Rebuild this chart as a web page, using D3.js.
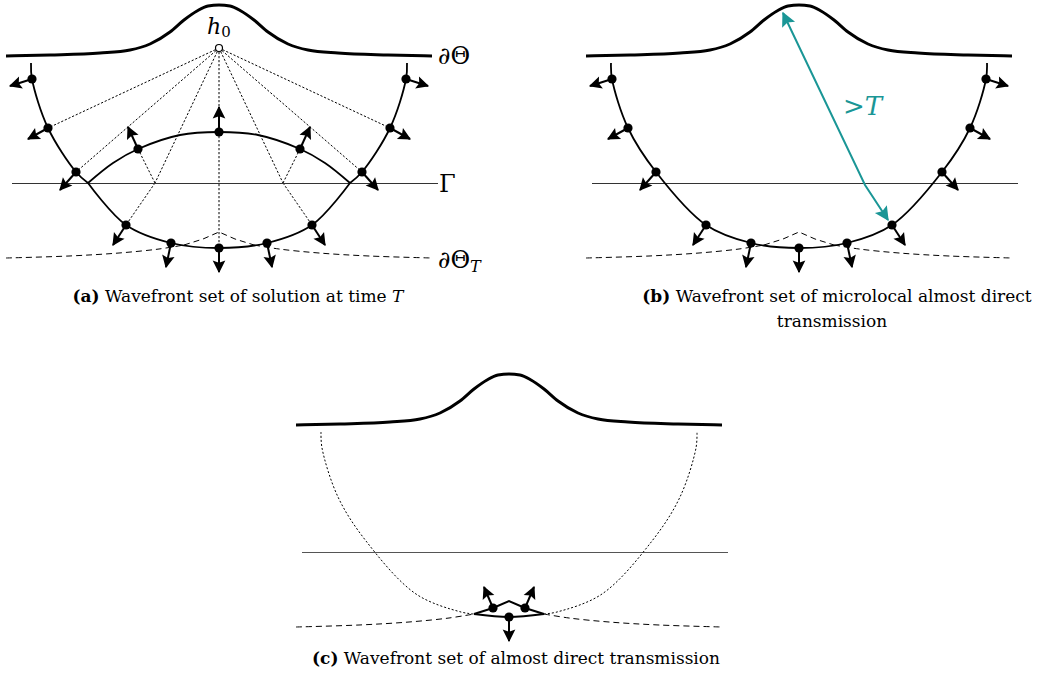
<!DOCTYPE html>
<html>
<head>
<meta charset="utf-8">
<script src="https://cdn.jsdelivr.net/npm/d3@7"></script>
<style>
  body { margin: 0; background: #fff; }
</style>
</head>
<body>
<div id="graph"></div>
<script>
// local coordinates: x from centre of bump, y down from flat part of the boundary
const bump = [[-213,0],[-169,-1],[-119,-3],[-89,-6],[-69,-12],[-49,-24],[-35,-36],[-22,-45],[-11,-50],[0,-51],
              [11,-50],[22,-45],[35,-36],[49,-24],[69,-12],[89,-6],[119,-3],[169,-1],[213,0]];
const gammaLine = [[-207,127.5],[219,127.5]];
const thetaTLeft = [[-213,202],[-150,200],[-100,197],[-60,193],[-35,189]];
const thetaTRight = [[35,189],[60,193],[100,197],[150,200],[213,202]];
const thetaTTent = [[-35,189],[-16,183],[0,176],[16,183],[35,189]];

const waveLeft = [[-188,7],[-187,23],[-171,72],[-143,116],[-131,127]];
const waveRight = [[131,127],[143,116],[171,72],[187,23],[188,7]];
const waveLower = [[-131,127],[-93,169],[-48,187],[0,192],[48,187],[93,169],[131,127]];
const waveUpper = [[-131,127],[-106,107],[-81,93],[-39,79],[0,76],[39,79],[81,93],[106,107],[131,127]];
const waveFull = [[-188,7],[-187,23],[-171,72],[-143,116],[-93,169],[-48,187],[0,192],
                  [48,187],[93,169],[143,116],[171,72],[187,23],[188,7]];
const cDottedLeft = [[-188,7],[-187,23],[-171,72],[-143,116],[-93,169],[-48,187],[-35,189]];
const cDottedRight = [[35,189],[48,187],[93,169],[143,116],[171,72],[187,23],[188,7]];
const cLensLower = [[-35,189],[0,192],[35,189]];

// points of the wavefront set and their covectors
const outerDots = [[-187,23],[-171,72],[-143,116],[-93,169],[-48,187],[0,192],[48,187],[93,169],[143,116],[171,72],[187,23]];
const outerVecs = [[-22,7],[-20,11],[-16,18],[-13,20],[-5,24],[0,24],[5,24],[13,20],[16,18],[20,11],[22,7]];
const upperDots = [[-81,93],[0,76],[81,93]];
const upperVecs = [[-10,-22],[0,-25],[10,-22]];
const cDots = [[-16,183],[0,192],[16,183]];
const cVecs = [[-9,-21],[0,24],[9,-21]];

const h0 = [0,-8];
const rayEnds = [[-171,72],[-143,116],[0,192],[143,116],[171,72]];
const rayHits = [[-64,127],[64,127]];
const rayReflected = [[-81,93],[81,93]];
const rayTransmitted = [[-93,169],[93,169]];

const tealPath = [[-16,-43],[66,129],[89,164]];

const panels = [{id:"a", cx:219, by:56}, {id:"b", cx:799, by:56}, {id:"c", cx:509, by:425}];

const mathFont = "'DejaVu Serif', serif";
const textFont = "'DejaVu Serif', serif";
const teal = "#1a9696";

const svg = d3.select("#graph").append("svg")
    .attr("width", 1042).attr("height", 683);

const defs = svg.append("defs");
const addMarker = (id, color, orient, s) => {
  defs.append("marker")
    .attr("id", id)
    .attr("viewBox", "-12 -6 13 12")
    .attr("markerUnits", "userSpaceOnUse")
    .attr("markerWidth", 13 * s).attr("markerHeight", 12 * s)
    .attr("refX", 0).attr("refY", 0)
    .attr("orient", orient)
    .append("path")
    .attr("d", "M1,0 L-10,-5.5 L-8,0 L-10,5.5 Z")
    .attr("fill", color);
};
addMarker("head", "#000", "auto", 1.15);
addMarker("tealHead", teal, "auto-start-reverse", 1.3);

panels.forEach((p) => {
  const x = d3.scaleLinear().domain([-220, 220]).range([p.cx - 220, p.cx + 220]);
  const y = d3.scaleLinear().domain([-60, 220]).range([p.by - 60, p.by + 220]);
  const smooth = d3.line().x((d) => x(d[0])).y((d) => y(d[1])).curve(d3.curveCatmullRom.alpha(0.5));
  const mono = d3.line().x((d) => x(d[0])).y((d) => y(d[1])).curve(d3.curveMonotoneX);
  const straight = d3.line().x((d) => x(d[0])).y((d) => y(d[1]));
  const g = svg.append("g").attr("id", "panel-" + p.id);

  const draw = (pts, gen, width, dash, color) => g.append("path")
      .attr("d", gen(pts))
      .attr("fill", "none")
      .attr("stroke", color || "#000")
      .attr("stroke-width", width)
      .attr("stroke-dasharray", dash || null);

  // rays from h0 (only in a)
  if (p.id === "a") {
    rayEnds.forEach((e) => draw([h0, e], straight, 1, "2.2,1.8"));
    rayHits.forEach((h, i) => {
      draw([h0, h], straight, 1, "2.2,1.8");
      draw([h, rayReflected[i]], straight, 1, "2.2,1.8");
      draw([h, rayTransmitted[i]], straight, 1, "2.2,1.8");
    });
  }

  draw(gammaLine, straight, 1, null, p.id === "c" ? "#555" : "#333");
  draw(bump, mono, 3);

  draw(thetaTLeft, smooth, 1, "6,4");
  draw(thetaTRight, smooth, 1, "6,4");

  let dots, vecs;
  if (p.id === "a") {
    draw(thetaTTent, straight, 1, "6,4");
    draw(waveLeft, smooth, 1.8);
    draw(waveRight, smooth, 1.8);
    draw(waveLower, smooth, 1.8);
    draw(waveUpper, smooth, 1.8);
    dots = outerDots.concat(upperDots);
    vecs = outerVecs.concat(upperVecs);
  } else if (p.id === "b") {
    draw(thetaTTent, straight, 1, "6,4");
    draw(waveFull, smooth, 1.8);
    dots = outerDots;
    vecs = outerVecs;
  } else {
    draw(cDottedLeft, smooth, 1, "2,2");
    draw(cDottedRight, smooth, 1, "2,2");
    draw(cLensLower, smooth, 2);
    draw(thetaTTent, straight, 2);
    dots = cDots;
    vecs = cVecs;
  }

  g.selectAll("line.covector")
    .data(dots)
    .enter()
    .append("line")
    .attr("class", "covector")
    .attr("x1", (d) => x(d[0]))
    .attr("y1", (d) => y(d[1]))
    .attr("x2", (d, i) => x(d[0] + vecs[i][0]))
    .attr("y2", (d, i) => y(d[1] + vecs[i][1]))
    .attr("stroke", "#000")
    .attr("stroke-width", 2)
    .attr("marker-end", "url(#head)");

  g.selectAll("circle.pt")
    .data(dots)
    .enter()
    .append("circle")
    .attr("class", "pt")
    .attr("cx", (d) => x(d[0]))
    .attr("cy", (d) => y(d[1]))
    .attr("r", 4.6)
    .attr("fill", "#000");

  if (p.id === "a") {
    g.append("circle")
      .attr("cx", x(h0[0])).attr("cy", y(h0[1]))
      .attr("r", 3.5)
      .attr("fill", "#fff").attr("stroke", "#000").attr("stroke-width", 1.2);
    const hl = g.append("text")
      .attr("x", x(-12)).attr("y", y(-22))
      .attr("font-family", mathFont)
      .attr("font-size", 22);
    hl.append("tspan").attr("font-style", "italic").text("h");
    hl.append("tspan").attr("font-size", 15).attr("dy", 3).text("0");

    g.append("text").attr("x", x(219)).attr("y", y(8)).attr("font-family", mathFont).attr("font-size", 24).text("∂Θ");
    g.append("text").attr("x", x(220)).attr("y", y(136)).attr("font-family", mathFont).attr("font-size", 24).text("Γ");
    const tl = g.append("text").attr("x", x(219)).attr("y", y(212)).attr("font-family", mathFont).attr("font-size", 24);
    tl.append("tspan").text("∂Θ");
    tl.append("tspan").attr("font-size", 16).attr("font-style", "italic").attr("dy", 4).text("T");
  }

  if (p.id === "b") {
    draw(tealPath, straight, 2, null, teal)
      .attr("marker-start", "url(#tealHead)")
      .attr("marker-end", "url(#tealHead)");
    const tt = g.append("text")
      .attr("x", x(44)).attr("y", y(59))
      .attr("font-family", mathFont)
      .attr("font-size", 26)
      .attr("fill", teal);
    tt.append("tspan").text(">");
    tt.append("tspan").attr("font-style", "italic").text("T");
  }
});

// captions
const captions = [
  {label: "(a)", text: " Wavefront set of solution at time ", italic: "T", x: 238, y: 302},
  {label: "(b)", text: " Wavefront set of microlocal almost direct", italic: "", x: 837, y: 302},
  {label: "", text: "transmission", italic: "", x: 832, y: 327},
  {label: "(c)", text: " Wavefront set of almost direct transmission", italic: "", x: 516, y: 664}
];
captions.forEach((c) => {
  const t = svg.append("text")
    .attr("x", c.x).attr("y", c.y)
    .attr("text-anchor", "middle")
    .attr("font-family", textFont)
    .attr("font-size", 17);
  if (c.label) t.append("tspan").attr("font-weight", "bold").text(c.label);
  t.append("tspan").text(c.text);
  if (c.italic) t.append("tspan").attr("font-style", "italic").text(c.italic);
});
</script>
</body>
</html>
